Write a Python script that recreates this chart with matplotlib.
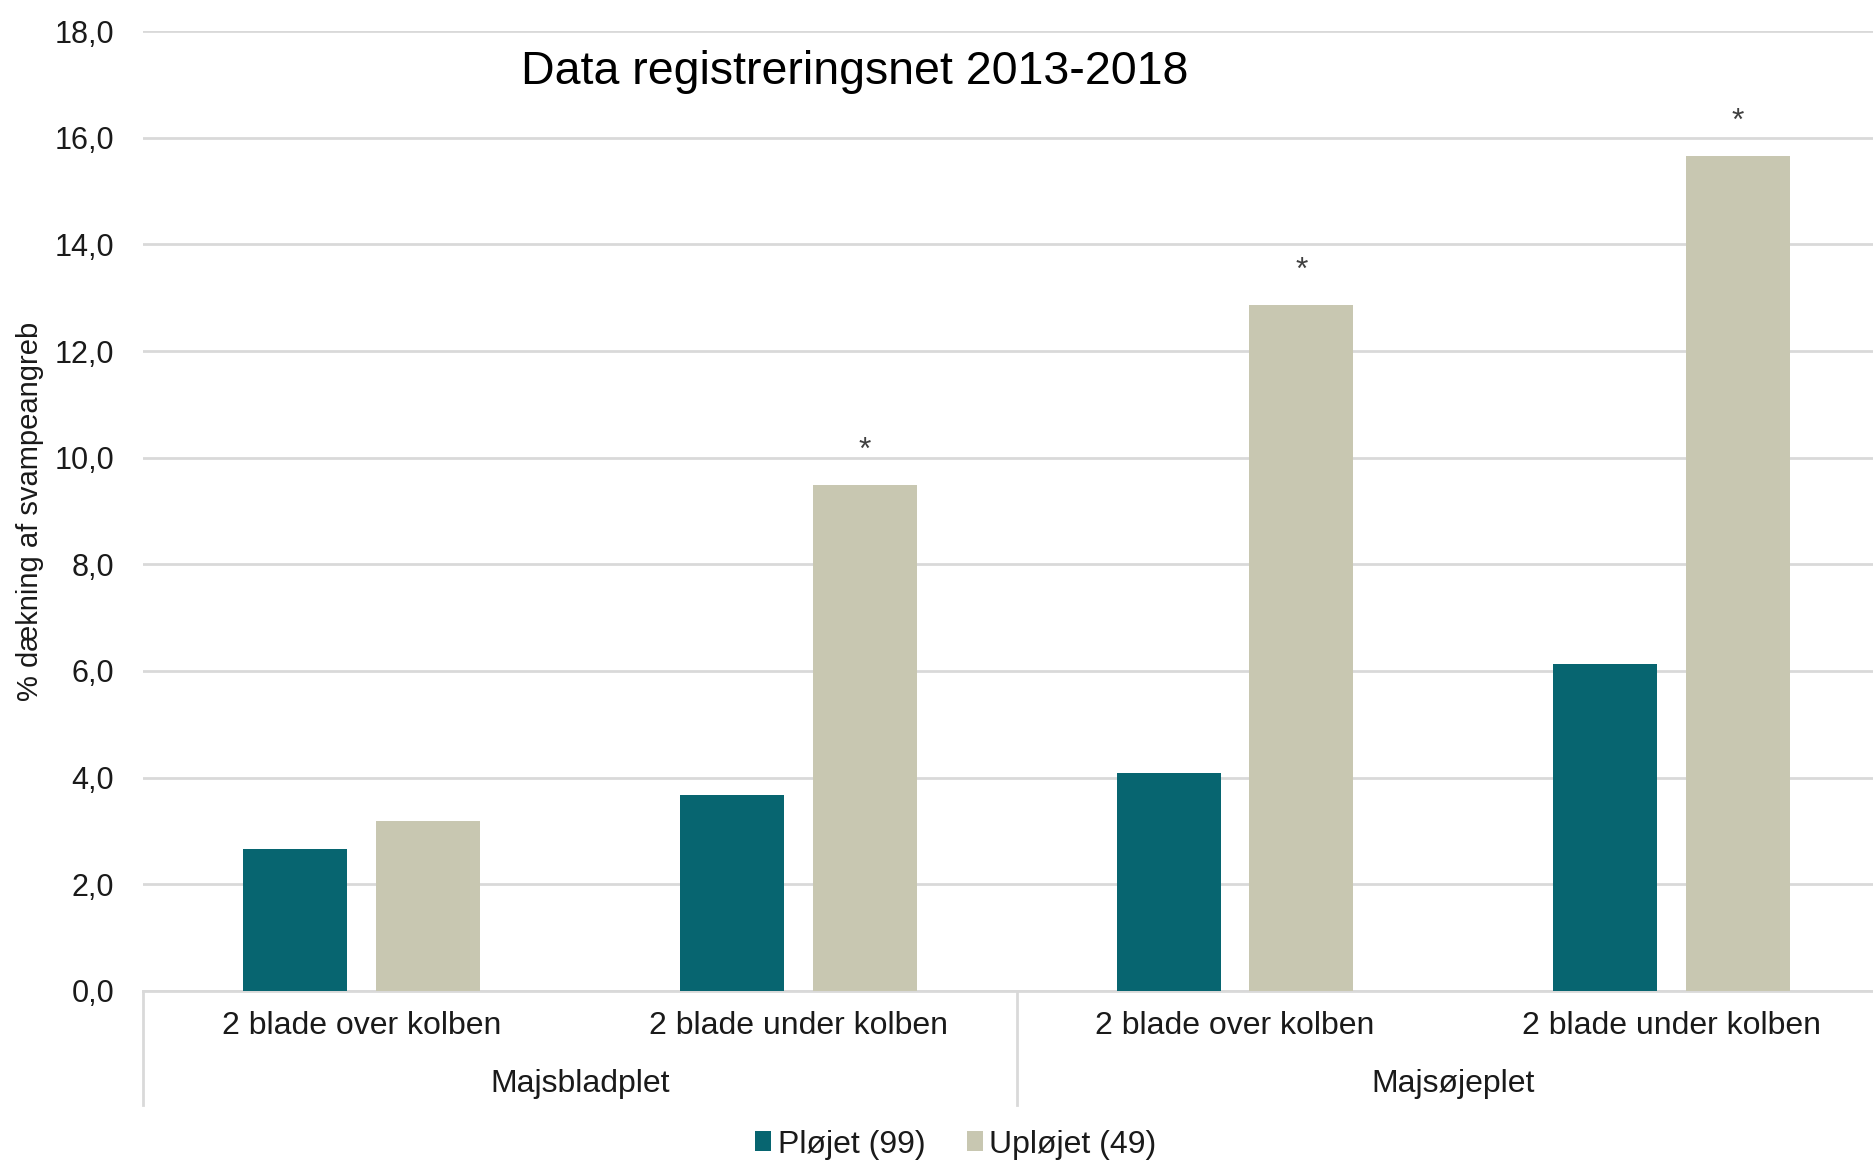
import numpy as np
import matplotlib.pyplot as plt
from matplotlib.transforms import blended_transform_factory

plt.rcParams['font.family'] = ['Liberation Sans', 'DejaVu Sans']

categories = ['2 blade over kolben', '2 blade under kolben', '2 blade over kolben', '2 blade under kolben']
groups = ['Majsbladplet', 'Majsøjeplet']
ploejet = [2.66, 3.67, 4.09, 6.14]
uploejet = [3.18, 9.49, 12.86, 15.65]
significant = [False, True, True, True]
yticks = np.arange(0, 18.1, 2)

teal = '#076570'
beige = '#C8C7B1'
grid_col = '#D9D9D9'
txt_col = '#1a1a1a'

fig = plt.figure(figsize=(18.74, 11.62), dpi=100)
# axes runs a little past the right edge of the figure, as in the original
ax = fig.add_axes([0.0765, 0.1472, 0.932, 0.8261])

x = np.arange(len(categories))
w = 0.238
off = 0.152
ax.bar(x - off, ploejet, w, color=teal, label='Pløjet (99)', zorder=3)
ax.bar(x + off, uploejet, w, color=beige, label='Upløjet (49)', zorder=3)

for i in range(len(x)):
    if significant[i]:
        ax.text(x[i] + off, uploejet[i] + 0.36, '*', ha='center', va='bottom',
                fontsize=23, color='#404040')

ax.set_xlim(-0.5, 3.5)
ax.set_ylim(0, 18)
ax.set_yticks(yticks)
ax.set_yticklabels([('%.1f' % v).replace('.', ',') for v in yticks])
ax.yaxis.grid(True, color=grid_col, linewidth=2, zorder=0)
ax.tick_params(axis='y', length=0, pad=21, labelsize=22, labelcolor=txt_col)
ax.set_xticks([])
for s in ['top', 'right', 'left']:
    ax.spines[s].set_visible(False)
ax.spines['bottom'].set_color(grid_col)
ax.spines['bottom'].set_linewidth(2)

# hierarchical category labels
tr = blended_transform_factory(ax.transData, ax.transAxes)
for i, c in enumerate(categories):
    ax.text(x[i], -0.037, c, transform=tr, ha='center', va='center',
            fontsize=23, color=txt_col)
for j, g in enumerate(groups):
    ax.text(j * 2 + 0.5, -0.097, g, transform=tr, ha='center', va='center',
            fontsize=23, color=txt_col)
for xs in [-0.5, 1.5, 3.5]:
    ax.plot([xs, xs], [0, -0.119], transform=tr, color=grid_col, linewidth=2,
            clip_on=False)

fig.text(30 / 1874, 0.560, '% dækning af svampeangreb', rotation=90,
         ha='center', va='center', fontsize=21, color=txt_col)

fig.text(0.456, 0.938, 'Data registreringsnet 2013-2018', ha='center', va='center',
         fontsize=33.5, color='black')

fig.legend(loc='center', bbox_to_anchor=(0.51, 0.015), ncol=2, frameon=False,
           fontsize=23, handlelength=0.5, handleheight=0.6, handletextpad=0.2,
           columnspacing=1.3, labelcolor=txt_col)

fig.savefig('out.png', dpi=100)
